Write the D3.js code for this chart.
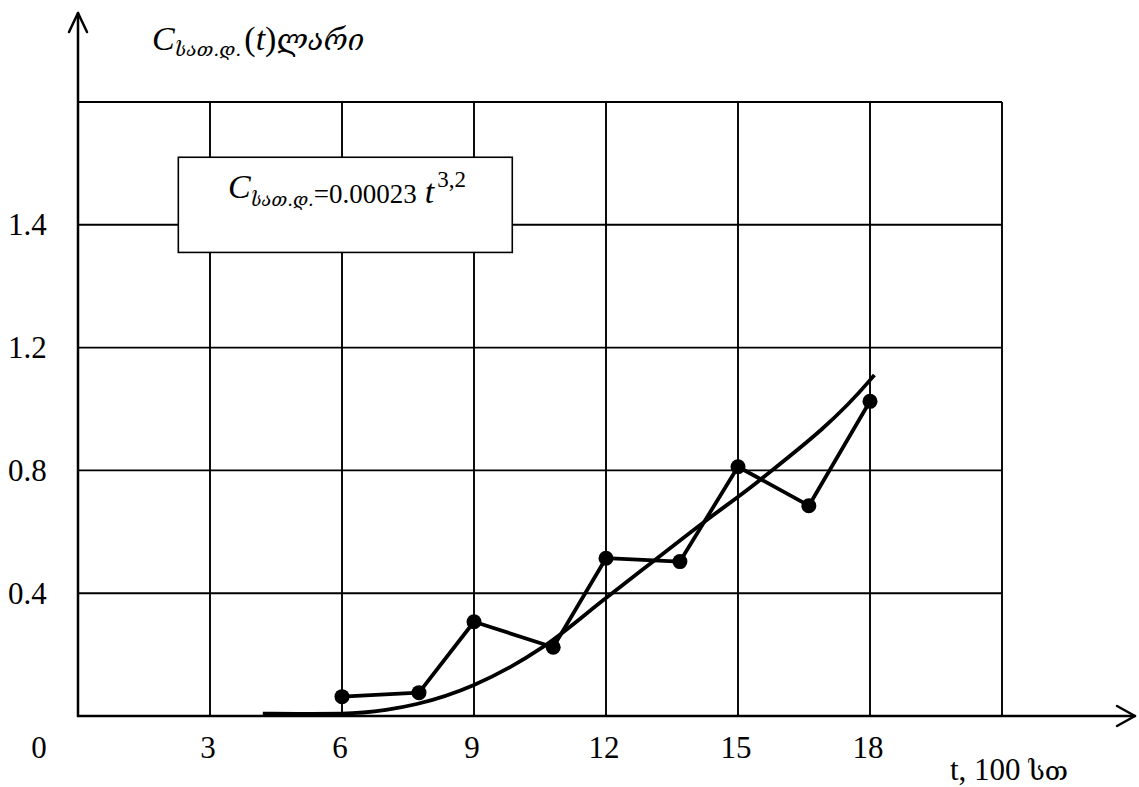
<!DOCTYPE html>
<html>
<head>
<meta charset="utf-8">
<script src="https://cdn.jsdelivr.net/npm/d3@7"></script>
<style>
  html, body { margin: 0; padding: 0; background: #fff; }
  svg { display: block; }
  text { font-family: "Liberation Serif", "DejaVu Serif", serif; fill: #000; }
  .geo { font-family: "DejaVu Serif", "Liberation Serif", serif; }
</style>
</head>
<body>
<svg id="chart" width="1139" height="787"></svg>
<script>
// Observed cost points: time (hundreds of hours) and cost (lari)
const obsTime = [6, 7.75, 9, 10.8, 12, 13.68, 15, 16.61, 18];
const obsCost = [0.063, 0.076, 0.307, 0.224, 0.514, 0.503, 0.812, 0.685, 1.025];

// Smoothed trend curve of the cost
const fitTime = [4.2, 5, 6, 7, 7.7, 9, 10.57, 12, 14.2, 15.5, 18, 18.1];
const fitCost = [0.008, 0.007, 0.008, 0.02, 0.039, 0.101, 0.225, 0.384, 0.629, 0.769, 1.094, 1.111];

// Axis ticks and grid
const xTickValues = [0, 3, 6, 9, 12, 15, 18];
const xTickLabels = ["0", "3", "6", "9", "12", "15", "18"];
const yTickValues = [0.4, 0.8, 1.2, 1.6];
const yTickLabels = ["0.4", "0.8", "1.2", "1.4"];
const xGridValues = [3, 6, 9, 12, 15, 18, 21];
const yGridValues = [0.4, 0.8, 1.2, 1.6, 2.0];

const svg = d3.select("#chart");

const x = d3.scaleLinear().domain([0, 21]).range([78, 1002]);
const y = d3.scaleLinear().domain([0, 2]).range([716, 102]);

const x0 = x(0), y0 = y(0);
const xMax = x.range()[1], yTop = y.range()[1];

// Grid
const grid = svg.append("g").attr("stroke", "#000").attr("stroke-width", 1.9);
grid.selectAll("line.v").data(xGridValues).join("line")
  .attr("class", "v")
  .attr("x1", d => x(d)).attr("x2", d => x(d))
  .attr("y1", y0).attr("y2", yTop);
grid.selectAll("line.h").data(yGridValues).join("line")
  .attr("class", "h")
  .attr("x1", x0).attr("x2", xMax)
  .attr("y1", d => y(d)).attr("y2", d => y(d));

// Axes with open arrow heads
const axes = svg.append("g").attr("stroke", "#000").attr("stroke-width", 2.5)
  .attr("fill", "none").attr("stroke-linecap", "round").attr("stroke-linejoin", "round");
const xEnd = xMax + 133, yEnd = 13;
axes.append("path").attr("d", `M${x0},${y0}L${xEnd},${y0}`);
axes.append("path").attr("d", `M${xEnd - 18},${y0 - 10}L${xEnd},${y0}L${xEnd - 18},${y0 + 10}`);
axes.append("path").attr("d", `M${x0},${y0}L${x0},${yEnd}`);
axes.append("path").attr("d", `M${x0 - 9},${yEnd + 19}L${x0},${yEnd}L${x0 + 9},${yEnd + 19}`);

// Formula box
const box = svg.append("g");
box.append("rect")
  .attr("x", x(2.28)).attr("y", y(1.82))
  .attr("width", x(9.87) - x(2.28)).attr("height", y(1.51) - y(1.82))
  .attr("fill", "#fff").attr("stroke", "#000").attr("stroke-width", 1.6);

const ft = box.append("text").attr("x", 228).attr("y", 198);
ft.append("tspan").attr("font-style", "italic").attr("font-size", 34).text("C");
ft.append("tspan").attr("class", "geo").attr("font-style", "italic").attr("font-size", 18)
  .attr("dy", 8).text("სათ.დ.");
ft.append("tspan").attr("font-size", 27).attr("dy", -3).text("=0.00023");
ft.append("tspan").attr("font-style", "italic").attr("font-size", 34).attr("dx", 8).text("t");
ft.append("tspan").attr("font-size", 23).attr("dy", -16).attr("dx", 3).text("3,2");

// Trend curve
const curve = d3.line()
  .x(d => x(d[0])).y(d => y(d[1]))
  .curve(d3.curveMonotoneX);
svg.append("path")
  .datum(d3.zip(fitTime, fitCost))
  .attr("d", curve)
  .attr("fill", "none").attr("stroke", "#000").attr("stroke-width", 3.8);

// Observed polyline and points
const pts = d3.zip(obsTime, obsCost);
svg.append("path")
  .datum(pts)
  .attr("d", d3.line().x(d => x(d[0])).y(d => y(d[1])))
  .attr("fill", "none").attr("stroke", "#000").attr("stroke-width", 3.8)
  .attr("stroke-linejoin", "round");
svg.append("g").selectAll("circle").data(pts).join("circle")
  .attr("cx", d => x(d[0])).attr("cy", d => y(d[1]))
  .attr("r", 7.5).attr("fill", "#000");

// Tick labels
svg.append("g").selectAll("text").data(xTickValues).join("text")
  .attr("x", (d, i) => i === 0 ? x0 - 39 : x(d) - 2)
  .attr("y", 758)
  .attr("text-anchor", "middle")
  .attr("font-size", 31)
  .text((d, i) => xTickLabels[i]);

svg.append("g").selectAll("text").data(yTickValues).join("text")
  .attr("x", 8)
  .attr("y", d => y(d))
  .attr("dy", "0.34em")
  .attr("font-size", 31)
  .text((d, i) => yTickLabels[i]);

// Axis titles
const yt = svg.append("text").attr("x", 152).attr("y", 50);
yt.append("tspan").attr("font-style", "italic").attr("font-size", 34).text("C");
yt.append("tspan").attr("class", "geo").attr("font-style", "italic").attr("font-size", 19)
  .attr("dy", 6).text("სათ.დ.");
yt.append("tspan").attr("font-size", 34).attr("dy", -6).attr("dx", 3).text("(");
yt.append("tspan").attr("font-style", "italic").attr("font-size", 34).text("t");
yt.append("tspan").attr("font-size", 34).text(")");
yt.append("tspan").attr("class", "geo").attr("font-style", "italic").attr("font-size", 29).text("ლარი");

svg.append("text").attr("x", 950).attr("y", 780)
  .attr("font-size", 31)
  .text("t, 100 ")
  .append("tspan").attr("class", "geo").attr("font-size", 27).text("სთ");
</script>
</body>
</html>
